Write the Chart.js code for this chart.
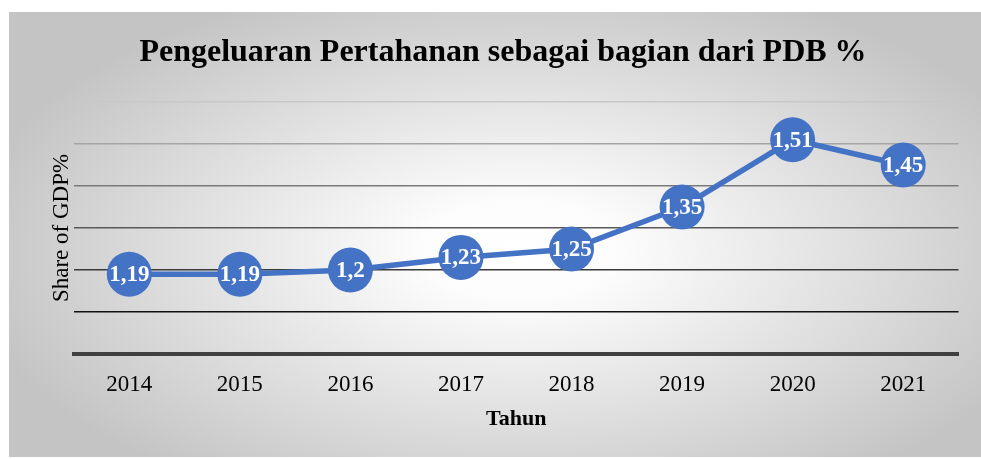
<!DOCTYPE html>
<html>
<head>
<meta charset="utf-8">
<script src="https://cdn.jsdelivr.net/npm/chart.js@4/dist/chart.umd.min.js"></script>
<style>
  html, body { margin: 0; padding: 0; background: #ffffff; overflow: hidden; }
  #wrap { width: 981px; height: 459px; position: relative; }
</style>
</head>
<body>
<div id="wrap"><canvas id="chart-defence-gdp" width="981" height="459"></canvas></div>
<script>
const years = ['2014', '2015', '2016', '2017', '2018', '2019', '2020', '2021'];
const shareOfGdp = [1.19, 1.19, 1.2, 1.23, 1.25, 1.35, 1.51, 1.45];
const gridColors = ['#404040', '#111111', '#3a3a3a', '#595959', '#7a7a7a', '#a5a5a5', '#c8c8c8'];

const serif = "'Liberation Serif', 'Times New Roman', serif";
const blue = '#4472C4';

// grey radial backdrop behind the whole chart box
const backdrop = {
    id: 'backdrop',
    beforeDraw(chart) {
        const ctx = chart.ctx;
        const x = 9, y = 12, w = 972, h = 445;
        const cx = 520, cy = 250;
        ctx.save();
        ctx.beginPath();
        ctx.rect(x, y, w, h);
        ctx.clip();
        ctx.translate(0, cy);
        ctx.scale(1, 0.5);
        const g = ctx.createRadialGradient(cx, 0, 0, cx, 0, 560);
        g.addColorStop(0, '#ffffff');
        g.addColorStop(0.18, '#fcfcfc');
        g.addColorStop(1, '#c4c4c4');
        ctx.fillStyle = g;
        ctx.fillRect(x - 10, -700, w + 20, 1400);
        ctx.restore();
    }
};

// value labels inside the markers, with decimal comma
const pointLabels = {
    id: 'pointLabels',
    afterDatasetsDraw(chart) {
        const ctx = chart.ctx;
        const meta = chart.getDatasetMeta(0);
        ctx.save();
        ctx.font = 'bold 23px ' + serif;
        ctx.fillStyle = '#ffffff';
        ctx.textAlign = 'center';
        ctx.textBaseline = 'middle';
        meta.data.forEach((pt, i) => {
            const txt = String(shareOfGdp[i]).replace('.', ',');
            ctx.fillText(txt, pt.x, pt.y + 1);
        });
        ctx.restore();
    }
};

new Chart(document.getElementById('chart-defence-gdp'), {
    type: 'line',
    data: {
        labels: years,
        datasets: [{
            label: 'Share of GDP%',
            data: shareOfGdp,
            borderColor: blue,
            backgroundColor: blue,
            borderWidth: 5.5,
            pointRadius: 22.5,
            pointHoverRadius: 22.5,
            pointBorderWidth: 0,
            fill: false,
            tension: 0,
            clip: false,
        }]
    },
    options: {
        responsive: false,
        animation: false,
        devicePixelRatio: 1,
        layout: { padding: { left: 44, right: 19, top: 12, bottom: 0 } },
        plugins: {
            legend: { display: false },
            tooltip: { enabled: false },
            title: {
                display: true,
                text: 'Pengeluaran Pertahanan sebagai bagian dari PDB %',
                color: '#000000',
                font: { family: serif, size: 32, weight: 'bold', lineHeight: 1.2 },
                padding: { top: 22, bottom: 29.6 },
            },
        },
        scales: {
            x: {
                offset: true,
                grid: { display: false, drawTicks: false },
                border: { display: true, color: '#404040', width: 4 },
                ticks: { color: '#000000', font: { family: serif, size: 23 }, padding: 17 },
                title: {
                    display: true,
                    text: 'Tahun',
                    color: '#000000',
                    font: { family: serif, size: 22, weight: 'bold', lineHeight: 1.2 },
                    padding: { top: 0, bottom: 26 },
                },
                afterFit(scale) { scale.height = 105; },
            },
            y: {
                min: 1.0,
                max: 1.6,
                ticks: { display: false, stepSize: 0.1 },
                border: { display: false },
                grid: {
                    drawTicks: false,
                    color: ctx => gridColors[ctx.index] || '#888888',
                    lineWidth: ctx => ctx.index === 0 ? 0 : 1.5,
                },
                title: {
                    display: true,
                    text: 'Share of GDP%',
                    color: '#000000',
                    font: { family: serif, size: 23, lineHeight: 1.2 },
                    padding: { top: 4, bottom: 4 },
                },
                afterFit(scale) { scale.width = 30; },
            }
        }
    },
    plugins: [backdrop, pointLabels]
});
</script>
</body>
</html>
